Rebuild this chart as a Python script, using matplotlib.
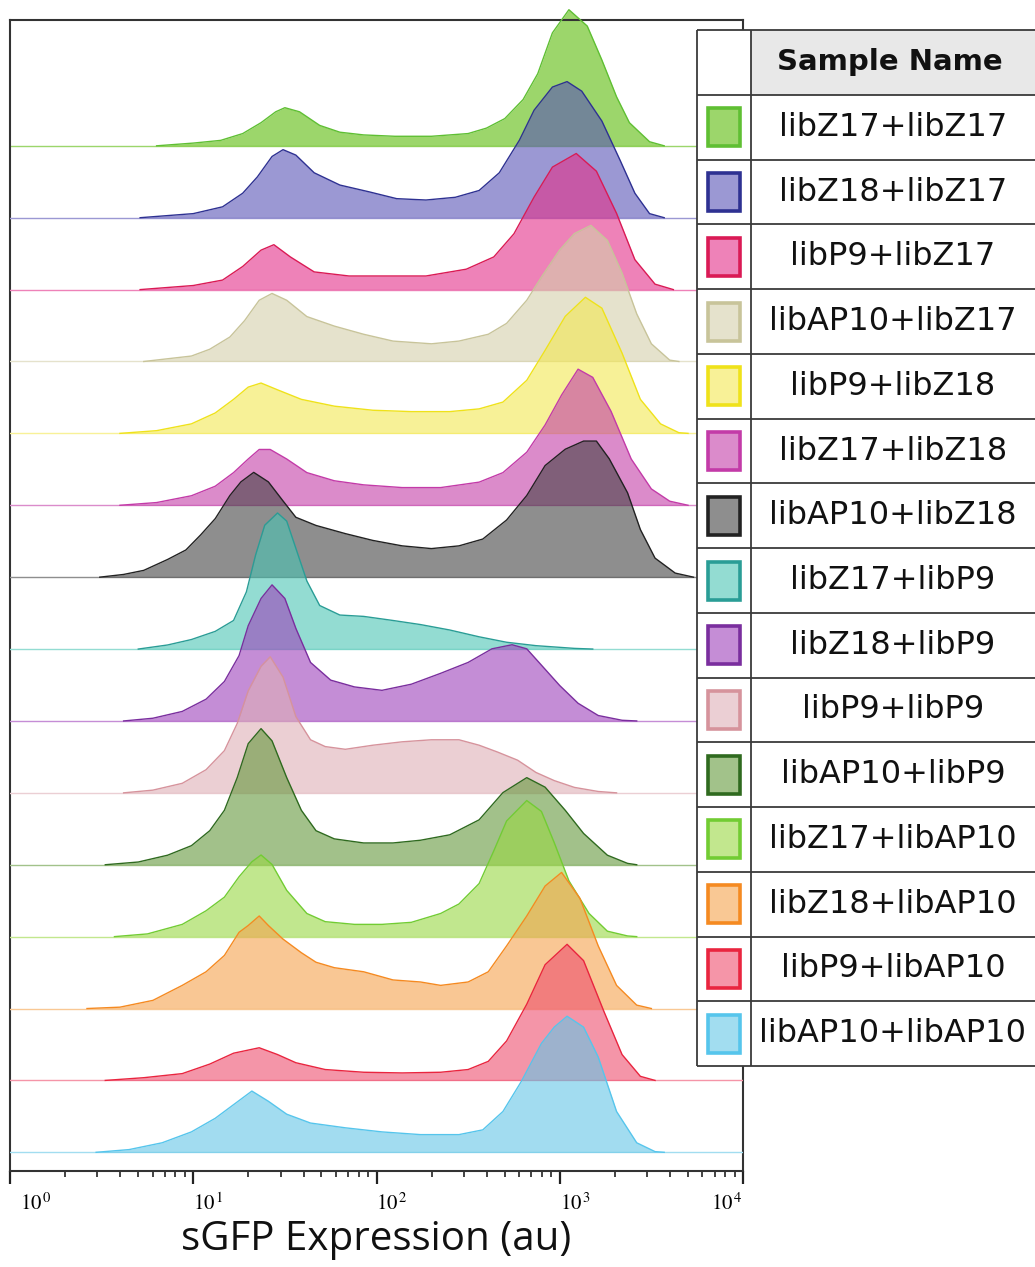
import numpy as np
import matplotlib
matplotlib.use("Agg")
import matplotlib.pyplot as plt
from matplotlib.patches import Rectangle
from matplotlib.colors import to_rgb
import matplotlib.transforms as mtransforms

plt.rcParams['mathtext.fontset'] = 'stix'

# ---------------- data ----------------
samples = ["libZ17+libZ17", "libZ18+libZ17", "libP9+libZ17", "libAP10+libZ17",
           "libP9+libZ18", "libZ17+libZ18", "libAP10+libZ18", "libZ17+libP9",
           "libZ18+libP9", "libP9+libP9", "libAP10+libP9", "libZ17+libAP10",
           "libZ18+libAP10", "libP9+libAP10", "libAP10+libAP10"]

face_colors = ["#9CD66B", "#9B98D3", "#EE82B8", "#E5E2CC", "#F8F197",
               "#DB8BCB", "#8E8E8E", "#93DCD2", "#C58DD6", "#EBCFD4",
               "#A2C28A", "#C2E78E", "#F9C894", "#F595A8", "#A2DDF0"]
edge_colors = ["#5FBF33", "#2E3192", "#DA1A55", "#C8C49A", "#EFE21A",
               "#C33BA8", "#222222", "#2A9D96", "#7A2E9E", "#D6939C",
               "#2F6A1F", "#72CC33", "#F58A21", "#E9253F", "#56C5EC"]

# log10(sGFP expression) sample points and relative histogram heights (% of max)
lx01 = [0.80, 1.00, 1.15, 1.27, 1.37, 1.45, 1.50, 1.58, 1.69, 1.80, 1.93, 2.10, 2.30, 2.50, 2.60, 2.70, 2.80, 2.88, 2.96, 3.05, 3.15, 3.23, 3.31, 3.38, 3.49, 3.57]
h01 = [0, 2, 4, 9, 17, 25, 28, 25, 15, 10, 8, 7, 7, 9, 13, 20, 34, 53, 83, 100, 88, 63, 36, 17, 3, 0]

lx02 = [0.71, 1.00, 1.16, 1.27, 1.35, 1.43, 1.49, 1.56, 1.66, 1.80, 1.96, 2.11, 2.27, 2.43, 2.56, 2.67, 2.78, 2.86, 2.96, 3.04, 3.12, 3.23, 3.33, 3.41, 3.49, 3.57]
h02 = [0, 3, 8, 18, 30, 45, 50, 46, 33, 24, 19, 14, 13, 15, 20, 33, 57, 79, 96, 100, 93, 71, 42, 18, 3, 0]

lx03 = [0.71, 1.00, 1.16, 1.27, 1.37, 1.44, 1.53, 1.66, 1.85, 2.06, 2.27, 2.49, 2.64, 2.75, 2.86, 2.96, 3.09, 3.20, 3.31, 3.41, 3.52, 3.62]
h03 = [0, 3, 7, 17, 29, 33, 24, 13, 10, 10, 10, 15, 24, 41, 68, 90, 100, 87, 56, 22, 4, 0]

lx04 = [0.73, 0.99, 1.09, 1.20, 1.28, 1.36, 1.43, 1.51, 1.62, 1.77, 1.93, 2.09, 2.30, 2.45, 2.61, 2.71, 2.82, 2.90, 3.00, 3.08, 3.17, 3.26, 3.34, 3.42, 3.50, 3.60, 3.65]
h04 = [0, 4, 9, 18, 30, 45, 50, 45, 33, 26, 20, 15, 13, 15, 20, 28, 45, 62, 82, 94, 100, 89, 65, 35, 13, 1, 0]

lx05 = [0.60, 0.80, 0.99, 1.12, 1.22, 1.30, 1.37, 1.46, 1.59, 1.77, 1.98, 2.19, 2.40, 2.56, 2.69, 2.82, 2.92, 3.03, 3.14, 3.23, 3.34, 3.44, 3.55, 3.65, 3.70]
h05 = [0, 2, 7, 15, 25, 34, 37, 32, 25, 20, 17, 16, 16, 18, 23, 39, 61, 86, 100, 92, 59, 25, 7, 0.5, 0]

lx06 = [0.60, 0.80, 0.99, 1.12, 1.22, 1.30, 1.36, 1.42, 1.51, 1.62, 1.77, 1.93, 2.14, 2.35, 2.56, 2.69, 2.82, 2.92, 3.01, 3.10, 3.18, 3.28, 3.39, 3.50, 3.60, 3.70]
h06 = [0, 2, 7, 14, 24, 34, 41, 41, 34, 24, 18, 15, 13, 13, 17, 24, 39, 59, 81, 100, 94, 69, 34, 12, 3, 0]

lx07 = [0.49, 0.62, 0.73, 0.86, 0.96, 1.04, 1.12, 1.20, 1.26, 1.33, 1.41, 1.49, 1.56, 1.67, 1.83, 1.98, 2.14, 2.30, 2.45, 2.58, 2.71, 2.82, 2.92, 3.03, 3.13, 3.20, 3.27, 3.37, 3.44, 3.52, 3.63, 3.73]
h07 = [0, 2, 5, 13, 20, 31, 43, 60, 70, 77, 70, 56, 44, 38, 32, 27, 23, 21, 23, 28, 42, 60, 82, 94, 100, 100, 87, 62, 35, 14, 3, 0]

lx08 = [0.70, 0.86, 0.99, 1.12, 1.22, 1.29, 1.34, 1.39, 1.46, 1.51, 1.56, 1.62, 1.69, 1.80, 1.93, 2.09, 2.24, 2.40, 2.56, 2.71, 2.87, 3.08, 3.18]
h08 = [0, 3, 7, 13, 21, 42, 69, 91, 100, 94, 74, 50, 32, 25, 24, 21, 18, 14, 9, 5, 2.5, 0.5, 0]

lx09 = [0.62, 0.78, 0.94, 1.07, 1.17, 1.25, 1.30, 1.37, 1.43, 1.50, 1.56, 1.64, 1.75, 1.88, 2.03, 2.19, 2.35, 2.50, 2.63, 2.74, 2.82, 2.90, 3.00, 3.10, 3.21, 3.34, 3.42]
h09 = [0, 2, 7, 16, 29, 48, 70, 90, 100, 90, 68, 43, 30, 25, 22.5, 27, 35, 43, 53, 56, 53, 41, 26, 13, 4, 0.5, 0]

lx10 = [0.62, 0.78, 0.94, 1.07, 1.17, 1.24, 1.30, 1.37, 1.42, 1.49, 1.56, 1.64, 1.72, 1.83, 1.98, 2.14, 2.30, 2.45, 2.56, 2.66, 2.77, 2.87, 2.97, 3.08, 3.21, 3.31]
h10 = [0, 2, 7, 17, 31, 51, 75, 93, 100, 85, 56, 39, 34, 32, 35, 37.5, 39, 39, 35, 30, 24, 15, 9, 4, 1, 0]

lx11 = [0.52, 0.70, 0.86, 0.99, 1.09, 1.17, 1.24, 1.30, 1.37, 1.43, 1.51, 1.59, 1.67, 1.77, 1.93, 2.09, 2.24, 2.40, 2.56, 2.69, 2.82, 2.92, 3.03, 3.13, 3.26, 3.37, 3.42]
h11 = [0, 2, 7, 14, 25, 40, 64, 89, 100, 91, 64, 40, 25, 19, 16, 16, 18, 22, 33, 53, 64, 57, 40, 23, 7, 1, 0]

lx12 = [0.57, 0.75, 0.94, 1.07, 1.17, 1.25, 1.32, 1.37, 1.43, 1.51, 1.62, 1.72, 1.88, 2.03, 2.19, 2.35, 2.45, 2.56, 2.64, 2.71, 2.82, 2.90, 2.97, 3.05, 3.16, 3.26, 3.37, 3.42]
h12 = [0, 2, 9, 19, 29, 44, 55, 60, 53, 34, 17, 11, 9, 9, 10.5, 17, 24, 39, 63, 85, 100, 92, 69, 41, 17, 4, 0.5, 0]

lx13 = [0.42, 0.60, 0.78, 0.94, 1.07, 1.17, 1.25, 1.30, 1.36, 1.41, 1.49, 1.59, 1.67, 1.77, 1.93, 2.09, 2.24, 2.35, 2.50, 2.61, 2.71, 2.82, 2.92, 3.01, 3.11, 3.21, 3.31, 3.42, 3.50]
h13 = [0, 1, 6, 17, 27, 39, 56, 61, 68, 61, 51, 41, 34, 30, 27, 21, 19.5, 17, 19.5, 27, 46, 68, 90, 100, 81, 46, 17, 2.5, 0]

lx14 = [0.52, 0.73, 0.94, 1.09, 1.22, 1.36, 1.46, 1.56, 1.72, 1.93, 2.14, 2.35, 2.50, 2.61, 2.71, 2.82, 2.92, 3.04, 3.13, 3.24, 3.34, 3.44, 3.52]
h14 = [0, 2, 5, 12, 20, 24, 19, 13, 8, 6, 5.5, 6, 8, 14, 29, 56, 85, 100, 88, 51, 19, 3, 0]

lx15 = [0.47, 0.65, 0.83, 0.99, 1.12, 1.22, 1.32, 1.41, 1.51, 1.64, 1.83, 2.03, 2.24, 2.45, 2.58, 2.69, 2.79, 2.90, 2.97, 3.04, 3.13, 3.21, 3.31, 3.42, 3.52, 3.57]
h15 = [0, 2, 7, 15, 25, 35, 45, 37.5, 28, 21.5, 18, 15, 13, 13, 16.5, 30, 52, 80, 92, 100, 92, 70, 30, 7, 0.5, 0]

log_positions = [lx01, lx02, lx03, lx04, lx05, lx06, lx07, lx08, lx09, lx10, lx11, lx12, lx13, lx14, lx15]
heights = [h01, h02, h03, h04, h05, h06, h07, h08, h09, h10, h11, h12, h13, h14, h15]

x_ticks = [1, 10, 100, 1000, 10000]
x_tick_labels = [r"$10^{\,0}$", r"$10^{\,1}$", r"$10^{\,2}$", r"$10^{\,3}$", r"$10^{\,4}$"]
x_label = "sGFP Expression (au)"
legend_title = "Sample Name"

# ---------------- figure ----------------
W, H = 1035, 1267
fig = plt.figure(figsize=(W / 100, H / 100), dpi=100)
fig.patch.set_facecolor("white")
ax = fig.add_axes([10 / W, 96 / H, 733 / W, 1151 / H])
ax.set_xscale("log")
ax.set_xlim(1, 1e4)
ax.set_ylim(-0.26, 15.75)

PEAK = 1.893   # peak height in row spacings
ALPHA = 0.6
n = len(samples)
for i in range(n):
    base = n - 1 - i
    x = 10 ** np.asarray(log_positions[i], dtype=float)
    y = base + np.asarray(heights[i], dtype=float) / 100.0 * PEAK
    rgb = np.array(to_rgb(face_colors[i]))
    basecol = np.clip(1 - (1 - rgb) / ALPHA, 0, 1)
    z = 2 + 2 * i
    ax.axhline(base, color=face_colors[i], lw=1.0, zorder=z)
    ax.fill_between(x, base, y, color=basecol, alpha=ALPHA, lw=0, zorder=z, clip_on=False)
    ax.plot(x, y, color=edge_colors[i], lw=1.0, zorder=z + 1, clip_on=False)

for s in ax.spines.values():
    s.set_color("#333333")
    s.set_linewidth(1.5)
ax.set_yticks([])
ax.set_xticks(x_ticks)
ax.set_xticklabels(x_tick_labels)
ax.tick_params(axis="x", which="major", direction="out", length=9.5, width=1.6,
               color="#222222", labelsize=15, pad=6)
ax.tick_params(axis="x", which="minor", direction="out", length=4.5, width=1.2,
               color="#222222")
labs = ax.get_xticklabels()
for k, lab in enumerate(labs):
    if k == len(labs) - 1:
        lab.set_horizontalalignment("right")
    else:
        lab.set_horizontalalignment("left")
    if k == 0:
        lab.set_transform(lab.get_transform() +
                          mtransforms.ScaledTranslation(10 / 100, 0, fig.dpi_scale_trans))
ax.set_xlabel(x_label, fontsize=29, family="Open Sans", labelpad=4, color="#111111")

# ---------------- legend table ----------------
lax = fig.add_axes([0, 0, 1, 1])
lax.set_zorder(10)
lax.set_xlim(0, W)
lax.set_ylim(H, 0)
lax.axis("off")
lax.patch.set_visible(False)

TL, TR, TT, HDR, TB = 697, 1045, 30, 95, 1066
COLX = 751
ROWH = (TB - HDR) / n
lax.add_patch(Rectangle((TL, TT), TR - TL, TB - TT, fc="white", ec="none"))
lax.add_patch(Rectangle((COLX, TT), TR - COLX, HDR - TT, fc="#E8E8E8", ec="none"))
lc = "#3a3a3a"
for yb in [TT, HDR] + [HDR + ROWH * (k + 1) for k in range(n)]:
    lax.plot([TL, TR], [yb, yb], color=lc, lw=1.3, solid_capstyle="butt")
for xb in [TL, COLX]:
    lax.plot([xb, xb], [TT, TB], color=lc, lw=1.3, solid_capstyle="butt")
lax.text(890, (TT + HDR) / 2, legend_title, ha="center", va="center",
         fontsize=21, fontweight="bold", family="DejaVu Sans", color="#111111")
for k in range(n):
    yc = HDR + ROWH * (k + 0.5)
    lax.add_patch(Rectangle((708, yc - 19), 32, 38, fc=face_colors[k],
                            ec=edge_colors[k], lw=2.6))
    lax.text(893, yc, samples[k], ha="center", va="center", fontsize=23,
             family="DejaVu Sans", color="#111111")

fig.savefig("out.png", dpi=100, facecolor="white")
